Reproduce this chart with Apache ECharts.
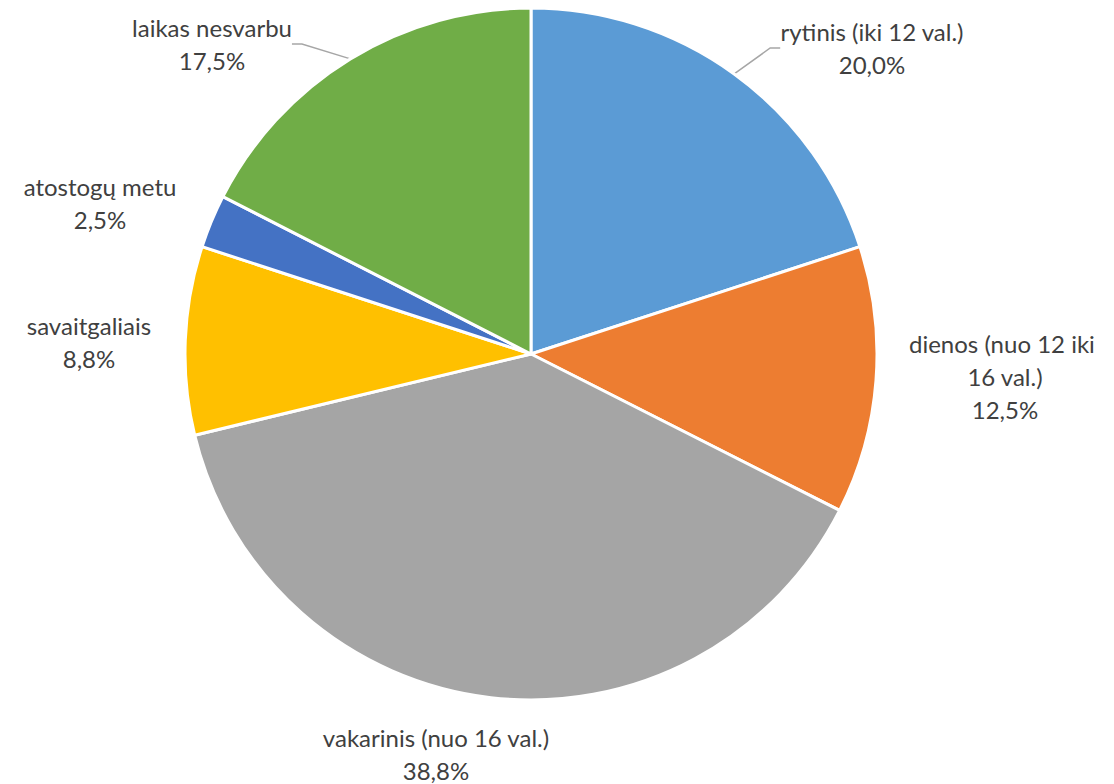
<!DOCTYPE html>
<html>
<head>
<meta charset="utf-8">
<script src="https://cdn.jsdelivr.net/npm/echarts@6/dist/echarts.min.js"></script>
<style>
  html, body { margin: 0; padding: 0; background: #fff; }
  #chart { width: 1114px; height: 784px; }
</style>
</head>
<body>
<div id="chart"></div>
<script>
var categories = ['rytinis (iki 12 val.)', 'dienos (nuo 12 iki 16 val.)', 'vakarinis (nuo 16 val.)', 'savaitgaliais', 'atostogų metu', 'laikas nesvarbu'];
var values = [20.0, 12.5, 38.8, 8.8, 2.5, 17.5];
var colors = ['#5b9bd5', '#ed7d31', '#a5a5a5', '#ffc000', '#4472c4', '#70ad47'];

// label block centres, same order as categories
var labelPos = [[872, 48], [1005, 376], [436, 754], [89, 342], [100, 203], [212, 44]];
var showLine = [true, false, false, false, false, true];

(function() {
  var chart = echarts.init(document.getElementById('chart'), null, { renderer: 'svg' });
  var data = categories.map(function(name, i) {
    var item = {
      name: name,
      value: values[i],
      itemStyle: { color: colors[i] },
      labelLine: { show: showLine[i] }
    };
    if (i === 1) item.label = { width: 210, overflow: 'break' };
    return item;
  });
  chart.setOption({
    animation: false,
    series: [{
      type: 'pie',
      center: [531, 354],
      radius: 346,
      startAngle: 90,
      clockwise: true,
      data: data,
      itemStyle: { borderColor: '#fff', borderWidth: 3 },
      label: {
        show: true,
        position: 'outside',
        color: '#404040',
        fontFamily: 'Lato',
        fontSize: 24,
        lineHeight: 33,
        align: 'center',
        formatter: function(p) {
          return p.name + '\n' + p.value.toFixed(1).replace('.', ',') + '%';
        }
      },
      labelLine: {
        show: true,
        length: 10,
        length2: 10,
        lineStyle: { color: '#a6a6a6', width: 1.5 }
      },
      labelLayout: function(p) {
        var pos = labelPos[p.dataIndex];
        return { x: pos[0], y: pos[1], align: 'center', verticalAlign: 'middle' };
      }
    }]
  });
})();
</script>
</body>
</html>
